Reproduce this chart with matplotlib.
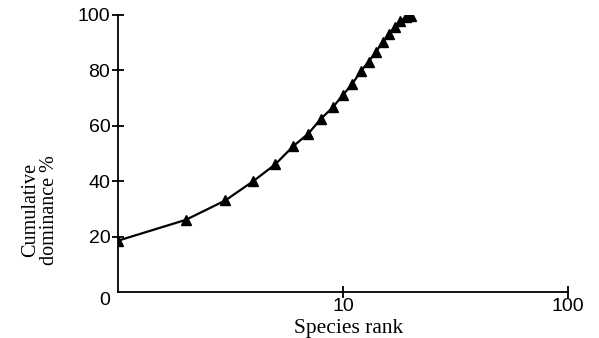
import matplotlib
matplotlib.use("Agg")
import matplotlib.pyplot as plt
import numpy as np

rank = list(range(1, 21))
cum_dom = [18.5, 26, 33, 40, 46, 52.5, 57, 62.5, 66.5, 71, 75, 79.5, 83, 86.5, 90, 93, 95.5, 97.5, 99, 99.5]
x_ticks = [1, 10, 100]
x_tick_labels = ["", "10", "100"]
y_ticks = [0, 20, 40, 60, 80, 100]
y_tick_labels = ["0", "20", "40", "60", "80", "100"]

fig = plt.figure(figsize=(5.99, 3.38), dpi=100)
ax = fig.add_axes([0.197, 0.136, 0.751, 0.821])
ax.plot(rank, cum_dom, color="black", lw=1.6, marker="^", markersize=7,
        markerfacecolor="black", markeredgecolor="black")
ax.set_xscale("log")
ax.set_xlim(1, 100)
ax.set_ylim(0, 100)
for s in ["top", "right"]:
    ax.spines[s].set_visible(False)
for s in ["left", "bottom"]:
    ax.spines[s].set_linewidth(1.3)
ax.set_xticks(x_ticks)
ax.set_xticklabels(x_tick_labels, fontsize=14, family="Liberation Sans")
ax.xaxis.set_minor_locator(matplotlib.ticker.NullLocator())
ax.set_yticks(y_ticks)
ax.set_yticklabels(y_tick_labels, fontsize=14, family="Liberation Sans")
ax.tick_params(axis="both", direction="inout", length=9, width=1.3, pad=2)
ax.tick_params(axis="x", pad=0)
ax.tick_params(axis="y", pad=1)
ax.yaxis.get_major_ticks()[0].tick1line.set_visible(False)
ax.xaxis.get_major_ticks()[0].tick1line.set_visible(False)
ax.yaxis.get_major_ticks()[0].label1.set_verticalalignment("top")

fig.text(349/599, 1-328/338, "Species rank", ha="center", va="center",
         fontsize=15.5, family="Liberation Serif")
fig.text(40/599, 1-210/338, "Cumulative\ndominance %", ha="center", va="center",
         rotation=90, fontsize=14.5, family="Liberation Serif", linespacing=1.0)

fig.savefig("out.png", dpi=100)
